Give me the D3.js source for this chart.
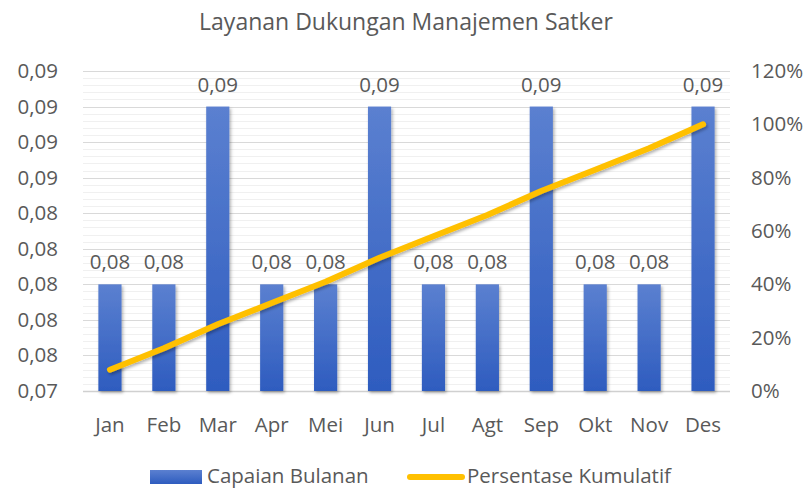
<!DOCTYPE html>
<html>
<head>
<meta charset="utf-8">
<script src="https://cdn.jsdelivr.net/npm/d3@7"></script>
<style>
  body { margin: 0; background: #fff; }
  text { font-family: "Open Sans", sans-serif; fill: #595959; }
</style>
</head>
<body>
<svg id="chart" width="812" height="488"></svg>
<script>
// data
var months = ['Jan','Feb','Mar','Apr','Mei','Jun','Jul','Agt','Sep','Okt','Nov','Des'];
var capaian = [0.08,0.08,0.09,0.08,0.08,0.09,0.08,0.08,0.09,0.08,0.08,0.09];
var kumulatif = [0.08,0.16,0.25,0.33,0.41,0.50,0.58,0.66,0.75,0.83,0.91,1.00];
var leftTicks = [0.074,0.076,0.078,0.080,0.082,0.084,0.086,0.088,0.090,0.092];
var rightTicks = [0,0.2,0.4,0.6,0.8,1.0,1.2];

var svg = d3.select('#chart');
var plotLeft = 83, plotRight = 730, plotTop = 71, plotBottom = 391;

var x = d3.scaleBand().domain(months).range([plotLeft, plotRight]).paddingInner(0.57).paddingOuter(0.285);
var y = d3.scaleLinear().domain([0.074, 0.092]).range([plotBottom, plotTop]);
var y2 = d3.scaleLinear().domain([0, 1.2]).range([plotBottom, plotTop]);

var defs = svg.append('defs');
var grad = defs.append('linearGradient').attr('id','barGrad').attr('x1',0).attr('y1',0).attr('x2',0).attr('y2',1);
grad.append('stop').attr('offset','0%').attr('stop-color','#5b80d0');
grad.append('stop').attr('offset','100%').attr('stop-color','#2e5cbf');

var shadow = defs.append('filter').attr('id','shadow').attr('x','-20%').attr('y','-20%').attr('width','150%').attr('height','150%');
shadow.append('feDropShadow').attr('dx',1.5).attr('dy',2).attr('stdDeviation',1.5).attr('flood-color','#000').attr('flood-opacity',0.3);

// minor gridlines
var minor = d3.range(0, 45).map(i => 0.074 + i * 0.0004);
svg.append('g').selectAll('line').data(minor).join('line')
  .attr('x1', plotLeft).attr('x2', plotRight)
  .attr('y1', d => Math.round(y(d)) + 0.5).attr('y2', d => Math.round(y(d)) + 0.5)
  .attr('stroke', '#f0f0f0').attr('stroke-width', 1);

// major gridlines
svg.append('g').selectAll('line').data(leftTicks).join('line')
  .attr('x1', plotLeft).attr('x2', plotRight)
  .attr('y1', d => Math.round(y(d)) + 0.5).attr('y2', d => Math.round(y(d)) + 0.5)
  .attr('stroke', d => d === 0.074 ? '#d0d0d0' : '#d9d9d9').attr('stroke-width', d => d === 0.074 ? 1.5 : 1);

// bars
svg.append('g').selectAll('rect').data(capaian).join('rect')
  .attr('x', (d,i) => x(months[i]))
  .attr('width', x.bandwidth())
  .attr('y', d => y(d))
  .attr('height', d => plotBottom - y(d))
  .attr('fill', 'url(#barGrad)')
  .attr('filter', 'url(#shadow)');

// bar labels
svg.append('g').selectAll('text').data(capaian).join('text')
  .attr('x', (d,i) => x(months[i]) + x.bandwidth()/2)
  .attr('y', d => y(d) - 15)
  .attr('text-anchor', 'middle')
  .style('font-size', '20.5px')
  .text(d => d3.format('.2f')(d).replace('.', ','));

// line
var line = d3.line()
  .x((d,i) => x(months[i]) + x.bandwidth()/2)
  .y(d => y2(d));
svg.append('path').datum(kumulatif)
  .attr('d', line)
  .attr('fill', 'none')
  .attr('stroke', '#ffc000')
  .attr('stroke-width', 6)
  .attr('stroke-linecap', 'round')
  .attr('stroke-linejoin', 'round')
  .attr('filter', 'url(#shadow)');

// left axis
svg.append('g').selectAll('text').data(leftTicks).join('text')
  .attr('x', 58).attr('y', d => y(d) + 7)
  .attr('text-anchor', 'end')
  .style('font-size', '20.5px')
  .text(d => d3.format('.2f')(d).replace('.', ','));

// right axis
svg.append('g').selectAll('text').data(rightTicks).join('text')
  .attr('x', 751).attr('y', d => y2(d) + 7)
  .style('font-size', '20.5px')
  .text(d => d3.format('.0%')(d));

// month labels
svg.append('g').selectAll('text').data(months).join('text')
  .attr('x', d => x(d) + x.bandwidth()/2)
  .attr('y', 432)
  .attr('text-anchor', 'middle')
  .style('font-size', '20.5px')
  .text(d => d);

// title
svg.append('text')
  .attr('x', 406).attr('y', 30)
  .attr('text-anchor', 'middle')
  .style('font-size', '23px')
  .text('Layanan Dukungan Manajemen Satker');

// legend
var lg = svg.append('g');
lg.append('rect').attr('x', 150).attr('y', 470).attr('width', 52).attr('height', 14).attr('fill', 'url(#barGrad)');
lg.append('text').attr('x', 207).attr('y', 483).style('font-size', '20.5px').text('Capaian Bulanan');
lg.append('line').attr('x1', 410).attr('x2', 462).attr('y1', 477).attr('y2', 477)
  .attr('stroke', '#ffc000').attr('stroke-width', 6).attr('stroke-linecap', 'round');
lg.append('text').attr('x', 467).attr('y', 483).style('font-size', '20.5px').text('Persentase Kumulatif');
</script>
</body>
</html>
